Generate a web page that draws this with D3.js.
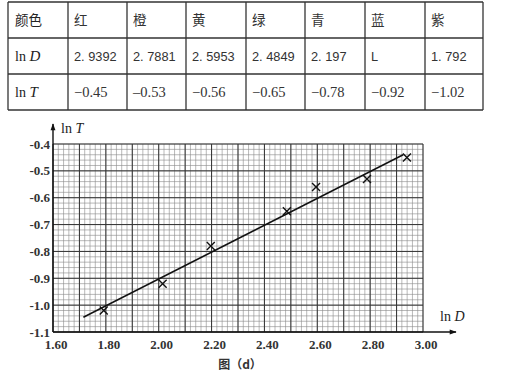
<!DOCTYPE html>
<html><head><meta charset="utf-8">
<script src="https://cdn.jsdelivr.net/npm/d3@7"></script>
<style>body{margin:0;background:#fff}svg{display:block}</style>
</head><body>
<script>
// ---- data ----
const colorNames = ["红","橙","黄","绿","青","蓝","紫"];
const lnDLabels = ["2. 9392","2. 7881","2. 5953","2. 4849","2. 197","L","1. 792"];
const lnTLabels = ["\u22120.45","\u20130.53","\u22120.56","\u22120.65","\u22120.78","\u22120.92","\u22121.02"];
const lnD = [2.9392, 2.7881, 2.5953, 2.4849, 2.197, 2.0149, 1.792];
const lnT = [-0.45, -0.53, -0.56, -0.65, -0.78, -0.92, -1.02];
const xTicks = [1.6, 1.8, 2.0, 2.2, 2.4, 2.6, 2.8, 3.0];
const yTicks = [-0.4, -0.5, -0.6, -0.7, -0.8, -0.9, -1.0, -1.1];
const fitLine = [[1.715, -1.045], [2.925, -0.44]];

const W = 507, H = 380;
const svg = d3.select("body").append("svg").attr("width", W).attr("height", H);
svg.append("rect").attr("width", W).attr("height", H).attr("fill", "#fff");

// ---- table ----
const colX = [8, 68, 127, 186, 246, 305, 365, 425, 483];
const rowY = [2, 38, 74, 110];
const tb = svg.append("g");
const cjk = "'Noto Sans CJK SC', sans-serif";
const rows = [
  {head: "颜色", cells: colorNames, font: cjk, size: 13.5},
  {head: "lnD", cells: lnDLabels, font: "'Liberation Sans', Arial, sans-serif", size: 12.8},
  {head: "lnT", cells: lnTLabels, font: "'Liberation Serif', serif", size: 14.5}
];
rows.forEach((r, i) => {
  const base = (rowY[i] + rowY[i+1]) / 2 + 5;
  const h = tb.append("text").attr("x", colX[0] + 7).attr("y", base)
    .attr("font-size", 14).attr("fill", "#222");
  if (i === 0) {
    h.attr("font-family", cjk).attr("font-size", 13.5).text(r.head);
  } else {
    h.attr("font-family", "'Liberation Serif', serif");
    h.append("tspan").text("ln ");
    h.append("tspan").attr("font-style", "italic").attr("font-size", 15).text(i === 1 ? "D" : "T");
  }
  r.cells.forEach((c, j) => {
    tb.append("text").attr("x", colX[j+1] + 6).attr("y", base)
      .attr("font-family", r.font).attr("font-size", r.size).attr("fill", "#333")
      .text(c);
  });
});
colX.forEach(x => tb.append("line").attr("x1", x).attr("x2", x).attr("y1", rowY[0]).attr("y2", rowY[3])
  .attr("stroke", "#333").attr("stroke-width", 1.3));
rowY.forEach(y => tb.append("line").attr("x1", colX[0]).attr("x2", colX[8]).attr("y1", y).attr("y2", y)
  .attr("stroke", "#333").attr("stroke-width", 1.3));

// ---- chart ----
const x = d3.scaleLinear().domain([1.6, 3.0]).range([53, 423]);
const y = d3.scaleLinear().domain([-1.1, -0.4]).range([332, 144]);
const g = svg.append("g");

// minor grid
const minorX = d3.range(0, 71).map(i => 1.6 + i * 0.02);
const minorY = d3.range(0, 36).map(i => -1.1 + i * 0.02);
g.selectAll(".mx").data(minorX).enter().append("line")
  .attr("x1", d => x(d)).attr("x2", d => x(d)).attr("y1", y(-1.1)).attr("y2", y(-0.4))
  .attr("stroke", "#8a8a8a").attr("stroke-width", 0.6);
g.selectAll(".my").data(minorY).enter().append("line")
  .attr("y1", d => y(d)).attr("y2", d => y(d)).attr("x1", x(1.6)).attr("x2", x(3.0))
  .attr("stroke", "#8a8a8a").attr("stroke-width", 0.6);
// major grid
const majorX = d3.range(0, 15).map(i => 1.6 + i * 0.1);
const majorY = d3.range(0, 8).map(i => -1.1 + i * 0.1);
g.selectAll(".Mx").data(majorX).enter().append("line")
  .attr("x1", d => x(d)).attr("x2", d => x(d)).attr("y1", y(-1.1)).attr("y2", y(-0.4))
  .attr("stroke", "#333").attr("stroke-width", 1);
g.selectAll(".My").data(majorY).enter().append("line")
  .attr("y1", d => y(d)).attr("y2", d => y(d)).attr("x1", x(1.6)).attr("x2", x(3.0))
  .attr("stroke", "#333").attr("stroke-width", 1);

// axes with arrows
svg.append("defs").append("marker").attr("id", "arr").attr("viewBox", "0 0 10 10")
  .attr("refX", 9).attr("refY", 5).attr("markerWidth", 9).attr("markerHeight", 7)
  .attr("markerUnits", "userSpaceOnUse").attr("orient", "auto")
  .append("path").attr("d", "M0,1.5 L10,5 L0,8.5 Z").attr("fill", "#111");
g.append("line").attr("x1", x(1.6)).attr("x2", x(1.6)).attr("y1", y(-1.1)).attr("y2", 124)
  .attr("stroke", "#111").attr("stroke-width", 1.4).attr("marker-end", "url(#arr)");
g.append("line").attr("x1", x(1.6)).attr("x2", 456).attr("y1", y(-1.1)).attr("y2", y(-1.1))
  .attr("stroke", "#111").attr("stroke-width", 1.4).attr("marker-end", "url(#arr)");

const serif = "'Liberation Serif', 'DejaVu Serif', serif";
// tick labels
g.selectAll(".yl").data(yTicks).enter().append("text")
  .attr("x", 50).attr("y", d => y(d)).attr("dy", "0.35em").attr("text-anchor", "end")
  .attr("font-family", serif).attr("font-weight", "bold").attr("font-size", 13).attr("fill", "#333")
  .text(d => d3.format(".1f")(d).replace("\u2212", "-"));
g.selectAll(".xl").data(xTicks).enter().append("text")
  .attr("x", d => x(d) + 3).attr("y", 349).attr("text-anchor", "middle")
  .attr("font-family", serif).attr("font-weight", "bold").attr("font-size", 13).attr("fill", "#333")
  .text(d => d3.format(".2f")(d));

// axis titles
const yt = g.append("text").attr("x", 61).attr("y", 133).attr("font-family", serif).attr("font-size", 14).attr("fill", "#222");
yt.append("tspan").text("ln ");
yt.append("tspan").attr("font-style", "italic").text("T");
const xt = g.append("text").attr("x", 440).attr("y", 321).attr("font-family", serif).attr("font-size", 14).attr("fill", "#222");
xt.append("tspan").text("ln ");
xt.append("tspan").attr("font-style", "italic").text("D");

// fit line
g.append("line").attr("x1", x(fitLine[0][0])).attr("y1", y(fitLine[0][1]))
  .attr("x2", x(fitLine[1][0])).attr("y2", y(fitLine[1][1]))
  .attr("stroke", "#111").attr("stroke-width", 1.5);

// markers
const pts = lnD.map((d, i) => [d, lnT[i]]);
const s = 4;
g.selectAll(".pt").data(pts).enter().append("path")
  .attr("d", d => { const cx = x(d[0]), cy = y(d[1]);
    return `M${cx-s},${cy-s}L${cx+s},${cy+s}M${cx-s},${cy+s}L${cx+s},${cy-s}`; })
  .attr("stroke", "#111").attr("stroke-width", 1.4).attr("fill", "none");

// caption
svg.append("text").attr("x", 240).attr("y", 369).attr("text-anchor", "middle")
  .attr("font-family", cjk).attr("font-weight", "bold").attr("font-size", 12).attr("fill", "#333")
  .text("图（d）");
</script>
</body></html>
